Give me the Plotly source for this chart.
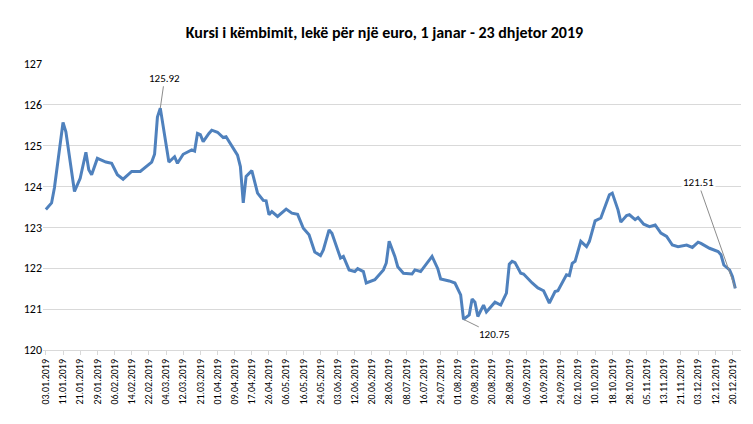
import plotly.graph_objects as go

tick_labels = ["03.01.2019","11.01.2019","21.01.2019","29.01.2019","06.02.2019","14.02.2019","22.02.2019",
"04.03.2019","12.03.2019","21.03.2019","01.04.2019","09.04.2019","17.04.2019","26.04.2019","06.05.2019",
"16.05.2019","24.05.2019","03.06.2019","12.06.2019","20.06.2019","28.06.2019","08.07.2019","16.07.2019",
"24.07.2019","01.08.2019","09.08.2019","20.08.2019","28.08.2019","06.09.2019","16.09.2019","24.09.2019",
"02.10.2019","10.10.2019","18.10.2019","28.10.2019","05.11.2019","13.11.2019","21.11.2019","03.12.2019",
"12.12.2019","20.12.2019"]

day_index = [0,2,3,6,7,9,10,12,14,15,16,18,21,23,25,27,30,33,37,38,39,40,43,45,46,48,51,52,53,54,55,57,58,60,
62,63,65,67,68,69,70,72,74,76,77,78,79,81,84,86,88,90,92,94,96,97,99,100,103,104,106,108,109,111,112,115,118,
119,120,122,123,125,128,129,131,133,135,137,138,141,143,145,146,148,149,150,151,153,154,157,159,161,162,163,
164,166,167,170,172,174,176,178,179,182,183,184,185,187,189,190,192,194,195,197,198,200,201,203,204,206,207,
209,211,213,215,217,219,221,224,226,228,229,232,235,236,237,239,240,241]
rate = [123.44,123.6,123.97,125.57,125.34,124.29,123.88,124.2,124.84,124.41,124.29,124.69,124.6,124.57,124.29,
124.18,124.37,124.37,124.6,124.79,125.7,125.92,124.6,124.73,124.57,124.79,124.9,124.87,125.3,125.27,125.1,125.3,
125.38,125.33,125.2,125.22,124.98,124.77,124.49,123.6,124.25,124.39,123.84,123.66,123.65,123.31,123.39,123.27,
123.45,123.35,123.32,122.98,122.82,122.4,122.31,122.45,122.94,122.86,122.25,122.29,121.96,121.92,121.99,121.92,
121.64,121.72,121.96,122.13,122.66,122.29,122.04,121.88,121.86,121.96,121.92,122.1,122.29,121.99,121.74,121.69,
121.64,121.35,120.75,120.86,121.25,121.17,120.82,121.1,120.93,121.17,121.1,121.39,122.1,122.17,122.14,121.88,
121.86,121.64,121.52,121.45,121.15,121.43,121.45,121.84,121.82,122.12,122.17,122.66,122.53,122.66,123.16,123.23,
123.43,123.8,123.84,123.43,123.13,123.29,123.31,123.19,123.24,123.08,123.02,123.06,122.86,122.78,122.57,122.53,
122.57,122.51,122.64,122.61,122.49,122.41,122.33,122.08,121.96,121.8,121.51]

tick_step = 6

fig = go.Figure(go.Scatter(x=day_index, y=rate, mode="lines",
                           line=dict(color="#4f81bd", width=3), hoverinfo="y"))

def note(i, label, tx, ty):
    fig.add_annotation(x=day_index[i], y=rate[i], ax=tx, ay=ty, axref="x", ayref="y",
                       text=label, showarrow=True, arrowhead=0, arrowwidth=1, arrowcolor="#8c8c8c",
                       font=dict(size=11, color="#000"), bgcolor="white")

note(rate.index(max(rate)), f"{max(rate):.2f}", 41.5, 126.65)
note(rate.index(min(rate)), f"{min(rate):.2f}", 157, 120.37)
note(len(rate) - 1, f"{rate[-1]:.2f}", 228, 124.1)

fig.update_layout(
    width=753, height=424,
    margin=dict(l=35, r=20, t=56, b=82),
    paper_bgcolor="white", plot_bgcolor="white",
    showlegend=False,
    font=dict(family="Carlito, Liberation Sans, sans-serif", color="#404040"),
    title=dict(text="<b>Kursi i këmbimit, lekë për një euro, 1 janar - 23 dhjetor 2019</b>",
               x=0.5, xanchor="center", y=0.955, font=dict(size=16, color="#000")),
    xaxis=dict(range=[-1, 243], tickmode="array",
               tickvals=[i * tick_step for i in range(len(tick_labels))], ticktext=tick_labels,
               tickangle=-90, tickfont=dict(size=10, color="#000"), showgrid=False,
               showline=True, linecolor="#d9d9d9", ticks="outside", ticklen=4, tickcolor="#d9d9d9",
               zeroline=False),
    yaxis=dict(range=[120, 127], dtick=1, gridcolor="#d9d9d9", tickfont=dict(size=12, color="#000"),
               zeroline=False, showline=False),
)
fig.write_html("out.html")
